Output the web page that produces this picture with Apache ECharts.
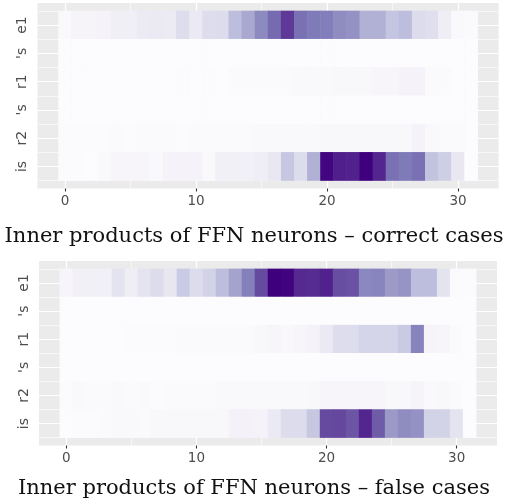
<!DOCTYPE html>
<html><head><meta charset="utf-8">
<script src="https://cdn.jsdelivr.net/npm/echarts@6/dist/echarts.min.js"></script>
<style>html,body{margin:0;padding:0;background:#fff}#c{width:508px;height:502px}</style>
</head><body><div id="c"></div>
<script>
// ---- data ----
const columns = [0,1,2,3,4,5,6,7,8,9,10,11,12,13,14,15,16,17,18,19,20,21,22,23,24,25,26,27,28,29,30,31];
const rowLabels = ["e1", "'s", "r1", "'s", "r2", "is"]; // top to bottom
const xTickValues = [0, 10, 20, 30];
const yTickValues = [1, 2, 3, 4, 5, 6];
const titles = ["Inner products of FFN neurons \u2013 correct cases", "Inner products of FFN neurons \u2013 false cases"];

const correctE1 = [0.03,0.06,0.06,0.07,0.11,0.11,0.14,0.15,0.14,0.23,0.15,0.23,0.24,0.37,0.45,0.57,0.68,0.82,0.66,0.63,0.62,0.56,0.54,0.42,0.42,0.34,0.37,0.24,0.22,0.12,0.03,0.02];
const correctS1 = [0,0,0,0,0,0,0,0,0,0,0,0,0,0,0,0,0,0,0,0,0,0,0,0,0,0,0,0,0,0,0,0];
const correctR1 = [0,0,0,0,0,0,0,0,0,0.01,0,0.01,0,0.02,0.02,0.02,0.02,0.02,0.03,0.03,0.03,0.04,0.04,0.04,0.05,0.05,0.07,0.07,0.02,0.02,0,0];
const correctS2 = [0,0,0,0,0,0,0,0,0,0,0,0,0,0,0,0,0,0,0,0,0,0,0,0,0,0,0,0,0,0,0,0];
const correctR2 = [0.01,0.01,0.01,0.01,0.02,0.005,0.02,0.02,0.02,0.005,0.02,0.02,0.02,0.02,0.02,0.03,0.03,0.03,0.03,0.03,0.04,0.04,0.04,0.04,0.04,0.04,0.04,0.07,0.03,0.02,0.02,0];
const correctIs = [0.01,0.01,0,0.03,0.05,0.05,0.05,0.03,0.07,0.07,0.07,0.03,0.1,0.1,0.1,0.125,0.16,0.33,0.24,0.42,0.98,0.9,0.89,1.0,0.88,0.66,0.63,0.66,0.35,0.3,0.16,0];

const falseE1 = [0.05,0.1,0.1,0.1,0.19,0.12,0.19,0.24,0.17,0.32,0.24,0.28,0.37,0.47,0.61,0.77,1.0,0.99,0.87,0.86,0.89,0.76,0.75,0.58,0.59,0.5,0.53,0.37,0.37,0.19,0.02,0.01];
const falseS1 = [0,0,0,0,0,0,0,0,0,0,0,0,0,0,0,0,0,0,0,0,0,0,0,0,0,0,0,0,0,0,0,0];
const falseR1 = [0,0,0,0,0,0.01,0.01,0.01,0.01,0.015,0.015,0.015,0.015,0.02,0.02,0.04,0.05,0.04,0.05,0.07,0.15,0.23,0.23,0.27,0.27,0.27,0.32,0.6,0.06,0.05,0.02,0];
const falseS2 = [0,0,0,0,0,0,0,0,0,0,0,0,0,0,0,0,0,0,0,0,0,0,0,0,0,0,0,0,0,0,0,0];
const falseR2 = [0.01,0.03,0.02,0.02,0.03,0.02,0.03,0.01,0.02,0.02,0.02,0.02,0.03,0.03,0.03,0.03,0.03,0.03,0.03,0.04,0.05,0.05,0.05,0.05,0.05,0.04,0.04,0.06,0.03,0.04,0.02,0];
const falseIs = [0,0.01,0.01,0.02,0.03,0.03,0.02,0.04,0.04,0.04,0.04,0.04,0.04,0.08,0.08,0.07,0.15,0.24,0.24,0.33,0.77,0.78,0.74,0.88,0.72,0.51,0.56,0.54,0.28,0.28,0.19,0];

const correctRows = [correctE1, correctS1, correctR1, correctS2, correctR2, correctIs];
const falseRows = [falseE1, falseS1, falseR1, falseS2, falseR2, falseIs];

// ---- style / layout ----
const purples = ['#fcfbfd','#efedf5','#dadaeb','#bcbddc','#9e9ac8','#807dba','#6a51a3','#54278f','#3f007d'];
const panels = [
  {left: 37.5, right: 498.6, top: 3, bottom: 188.5, titleY: 238, rows: correctRows},
  {left: 39, right: 497, top: 261, bottom: 445.5, titleY: 490, rows: falseRows}
];
const xMin = -2.1, xMax = 33.1, yMin = 0.22, yMax = 6.78;

const grid = [], xAxis = [], yAxis = [], series = [], title = [];
panels.forEach((p, k) => {
  const w = p.right - p.left, h = p.bottom - p.top;
  const px = w / (xMax - xMin), py = h / (yMax - yMin);
  const gDecor = grid.length;
  grid.push({left: p.left, top: p.top, width: w, height: h, show: true, backgroundColor: '#ebebeb', borderWidth: 0, containLabel: false});
  const gHeat = grid.length;
  grid.push({left: p.left + (-0.5 - xMin) * px, top: p.top + (yMax - 6.5) * py,
             width: columns.length * px, height: rowLabels.length * py, show: false, containLabel: false});
  // decor axes
  xAxis.push({type: 'value', gridIndex: gDecor, min: xMin, max: xMax,
    axisLine: {show: false},
    axisTick: {show: true, length: 3, customValues: xTickValues, lineStyle: {color: '#333', width: 1.1}},
    axisLabel: {customValues: xTickValues, color: '#4d4d4d', fontSize: 13.5, fontFamily: 'DejaVu Sans', margin: 6,
                formatter: v => (xTickValues.indexOf(v) >= 0 ? String(v) : '')},
    splitLine: {show: true, lineStyle: {color: '#fff', width: 1.2}},
    minorTick: {show: false, splitNumber: 2},
    minorSplitLine: {show: true, lineStyle: {color: '#fff', width: 0.6}}
  });
  yAxis.push({type: 'value', gridIndex: gDecor, min: yMin, max: yMax,
    axisLine: {show: false},
    axisTick: {show: true, length: 3, customValues: yTickValues, lineStyle: {color: '#333', width: 1.1}},
    axisLabel: {customValues: yTickValues, rotate: 90, color: '#4d4d4d', fontSize: 14, fontFamily: 'DejaVu Sans', margin: 8,
                formatter: v => (yTickValues.indexOf(v) >= 0 ? rowLabels[6 - v] : '')},
    splitLine: {show: true, lineStyle: {color: '#fff', width: 1.2}},
    minorTick: {show: false, splitNumber: 2},
    minorSplitLine: {show: true, lineStyle: {color: '#fff', width: 0.6}}
  });
  // heatmap axes
  xAxis.push({type: 'category', gridIndex: gHeat, data: columns, show: false,
    axisLine: {show: false}, axisTick: {show: false}, axisLabel: {show: false}, splitLine: {show: false}});
  yAxis.push({type: 'category', gridIndex: gHeat, data: [0,1,2,3,4,5], inverse: true, show: false,
    axisLine: {show: false}, axisTick: {show: false}, axisLabel: {show: false}, splitLine: {show: false}});
  const data = [];
  p.rows.forEach((row, r) => row.forEach((v, c) => data.push([c, r, v])));
  series.push({type: 'heatmap', xAxisIndex: xAxis.length - 1, yAxisIndex: yAxis.length - 1, data: data,
    itemStyle: {borderWidth: 0}, emphasis: {disabled: true}, progressive: 0});
  title.push({text: titles[k], left: 'center', top: p.titleY - 12, padding: 0,
    textStyle: {fontFamily: 'DejaVu Serif', fontSize: 21, fontWeight: 'normal', color: '#111'}});
});

const chart = echarts.init(document.getElementById('c'), null, {renderer: 'canvas'});
chart.setOption({
  animation: false,
  backgroundColor: '#fff',
  title: title,
  grid: grid, xAxis: xAxis, yAxis: yAxis,
  visualMap: {type: 'continuous', min: 0, max: 1, show: false, seriesIndex: [0, 1], inRange: {color: purples}},
  series: series
});
</script></body></html>
